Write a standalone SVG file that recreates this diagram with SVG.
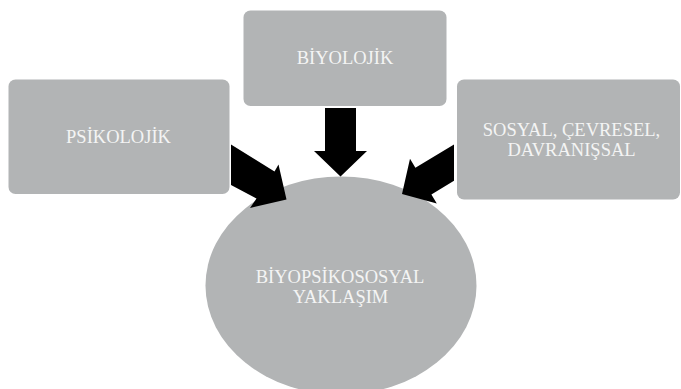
<svg xmlns="http://www.w3.org/2000/svg" width="681" height="389" viewBox="0 0 681 389">
<style>
.node{fill:#b2b4b5}
.lbl{font-family:"Liberation Serif","Times New Roman",serif;font-size:18.5px;fill:#f4f4f4;text-anchor:middle}
.arrow{fill:#000}
</style>
<rect width="681" height="389" fill="#fff"/>
<g id="node-center">
<ellipse class="node" cx="341" cy="285.5" rx="135.5" ry="109"/>
<text class="lbl" x="340" y="283.3">BİYOPSİKOSOSYAL</text>
<text class="lbl" x="340.5" y="303.3">YAKLAŞIM</text>
</g>
<g id="node-biyolojik">
<rect class="node" x="243.5" y="10.5" width="203" height="95.5" rx="7"/>
<text class="lbl" x="345" y="64">BİYOLOJİK</text>
</g>
<g id="node-psikolojik">
<rect class="node" x="8.5" y="79.5" width="221" height="114.5" rx="7"/>
<text class="lbl" x="118.5" y="142.7">PSİKOLOJİK</text>
</g>
<g id="node-sosyal">
<rect class="node" x="457" y="79.5" width="223" height="120" rx="7"/>
<text class="lbl" x="571.5" y="135.7">SOSYAL, ÇEVRESEL,</text>
<text class="lbl" x="571.5" y="155.5">DAVRANIŞSAL</text>
</g>
<g id="connectors">
<polygon class="arrow" points="325,108 356,108 356,151 367,151 340.5,176.5 314,151 325,151"/>
<polygon class="arrow" points="231,144.5 274.5,171.5 278.5,164.5 286.5,199.5 250,208 256.5,198.5 231,185"/>
<polygon class="arrow" points="454,144.6 415.4,167.8 410,158.8 402,194 436.8,203.4 431.4,194.4 454,180.8"/>
</g>
</svg>
